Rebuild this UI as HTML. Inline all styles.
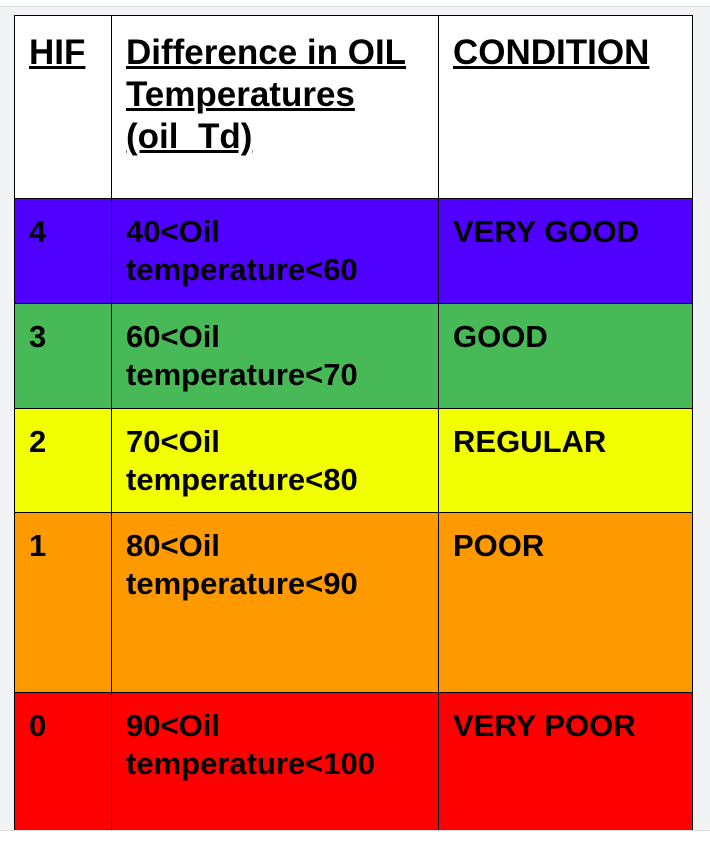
<!DOCTYPE html>
<html><head><meta charset="utf-8"><style>
body{margin:0;width:710px;height:849px;overflow:hidden;background:#f1f3f4;font-family:"Liberation Sans",Arial,sans-serif;position:relative}
.ruler{position:absolute;left:0;top:0;width:710px;height:6px;background:#fff;border-bottom:1px solid #ddd}
.c{position:absolute;box-sizing:border-box;border:1px solid #000;font-weight:bold;color:#000;padding:14px 0 0 14px;font-size:31px;line-height:38px;white-space:nowrap}
.h{font-size:35px;line-height:42px;text-decoration:underline;padding-top:16px}
.foot{position:absolute;left:0;top:830px;width:710px;height:19px;background:#fff;border-top:1px solid #ddd}
</style></head><body>
<div class="ruler"></div>
<div>
<div class="c h" style="left:14px;top:15px;width:98px;height:184px;background:#fff">HIF</div>
<div class="c h" style="left:111px;top:15px;width:328px;height:184px;background:#fff">Difference in OIL<br>Temperatures<br>(oil_Td)</div>
<div class="c h" style="left:438px;top:15px;width:255px;height:184px;background:#fff">CONDITION</div>

<div class="c" style="left:14px;top:198px;width:98px;height:106px;background:#4f00ff">4</div>
<div class="c" style="left:111px;top:198px;width:328px;height:106px;background:#4f00ff">40&lt;Oil<br>temperature&lt;60</div>
<div class="c" style="left:438px;top:198px;width:255px;height:106px;background:#4f00ff">VERY GOOD</div>

<div class="c" style="left:14px;top:303px;width:98px;height:106px;background:#47b956">3</div>
<div class="c" style="left:111px;top:303px;width:328px;height:106px;background:#47b956">60&lt;Oil<br>temperature&lt;70</div>
<div class="c" style="left:438px;top:303px;width:255px;height:106px;background:#47b956">GOOD</div>

<div class="c" style="left:14px;top:408px;width:98px;height:105px;background:#f2ff00">2</div>
<div class="c" style="left:111px;top:408px;width:328px;height:105px;background:#f2ff00">70&lt;Oil<br>temperature&lt;80</div>
<div class="c" style="left:438px;top:408px;width:255px;height:105px;background:#f2ff00">REGULAR</div>

<div class="c" style="left:14px;top:512px;width:98px;height:181px;background:#ff9900">1</div>
<div class="c" style="left:111px;top:512px;width:328px;height:181px;background:#ff9900">80&lt;Oil<br>temperature&lt;90</div>
<div class="c" style="left:438px;top:512px;width:255px;height:181px;background:#ff9900">POOR</div>

<div class="c" style="left:14px;top:692px;width:98px;height:150px;background:#ff0000">0</div>
<div class="c" style="left:111px;top:692px;width:328px;height:150px;background:#ff0000">90&lt;Oil<br>temperature&lt;100</div>
<div class="c" style="left:438px;top:692px;width:255px;height:150px;background:#ff0000">VERY POOR</div>
</div>
<div class="foot"></div>
</body></html>
